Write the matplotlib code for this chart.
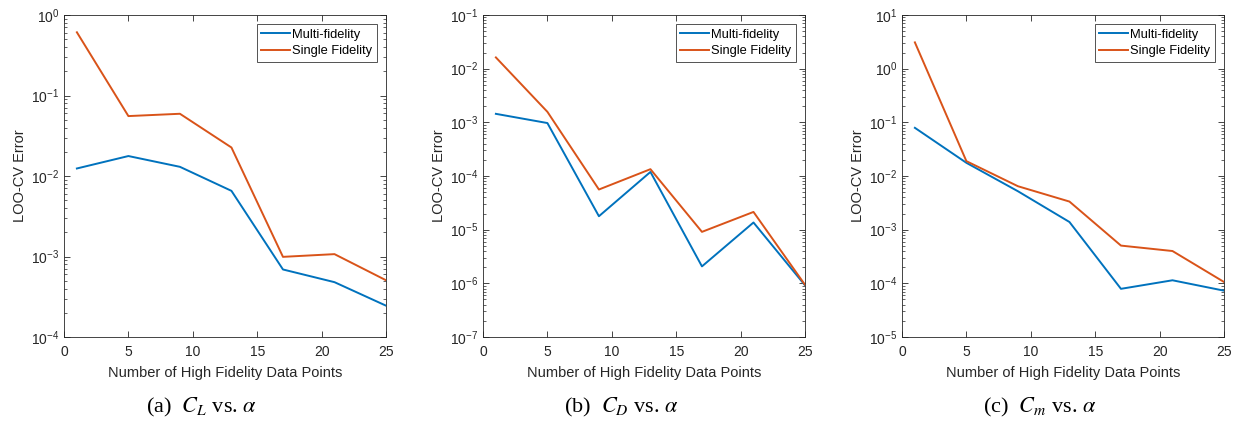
import matplotlib.pyplot as plt
from matplotlib.ticker import LogLocator, NullFormatter

# High fidelity sample counts
n_hf = [1, 5, 9, 13, 17, 21, 25]

# (a) C_L vs alpha
cl_multi = [0.0124, 0.0177, 0.013, 0.00654, 6.9e-4, 4.8e-4, 2.45e-4]
cl_single = [0.61, 0.0555, 0.0593, 0.0226, 9.9e-4, 1.07e-3, 5.07e-4]

# (b) C_D vs alpha
cd_multi = [1.44e-3, 9.7e-4, 1.78e-5, 1.19e-4, 2.07e-6, 1.36e-5, 9.2e-7]
cd_single = [1.62e-2, 1.57e-3, 5.6e-5, 1.34e-4, 9.1e-6, 2.14e-5, 9.4e-7]

# (c) C_m vs alpha
cm_multi = [0.079, 0.0176, 5.2e-3, 1.39e-3, 7.9e-5, 1.14e-4, 7.3e-5]
cm_single = [3.09, 0.0189, 6.45e-3, 3.34e-3, 5.05e-4, 4.0e-4, 1.06e-4]

ylims = [(1e-4, 1e0), (1e-7, 1e-1), (1e-5, 1e1)]
captions = [r"(a)  $C_L$ vs. $\alpha$", r"(b)  $C_D$ vs. $\alpha$", r"(c)  $C_m$ vs. $\alpha$"]

blue = '#0072BD'
orange = '#D95319'
axis_color = '#262626'

plt.rcParams['font.family'] = ['Liberation Sans', 'DejaVu Sans']
plt.rcParams['mathtext.fontset'] = 'custom'
plt.rcParams['mathtext.rm'] = 'Liberation Sans'

fig = plt.figure(figsize=(12.38, 4.21), dpi=100)
W, H = 1238, 421
lefts = [64, 483, 902]
top, bottom, width = 15, 337, 322

series = [(cl_multi, cl_single), (cd_multi, cd_single), (cm_multi, cm_single)]

for i, (multi, single) in enumerate(series):
    ax = fig.add_axes([lefts[i] / W, 1 - bottom / H, width / W, (bottom - top) / H])
    ax.plot(n_hf, multi, color=blue, lw=1.4, label='Multi-fidelity')
    ax.plot(n_hf, single, color=orange, lw=1.4, label='Single Fidelity')
    ax.set_yscale('log')
    ax.set_xlim(0, 25)
    ax.set_ylim(*ylims[i])
    ax.set_xticks([0, 5, 10, 15, 20, 25])
    ax.yaxis.set_major_locator(LogLocator(base=10, numticks=20))
    ax.yaxis.set_minor_locator(LogLocator(base=10, subs=range(2, 10), numticks=20))
    ax.yaxis.set_minor_formatter(NullFormatter())
    ax.tick_params(which='both', direction='in', top=True, right=True,
                   colors=axis_color, labelsize=10, labelcolor=axis_color)
    ax.tick_params(axis='x', pad=6)
    ax.tick_params(which='major', length=4, width=0.6)
    ax.tick_params(which='minor', length=2, width=0.5)
    for sp in ax.spines.values():
        sp.set_color(axis_color)
        sp.set_linewidth(0.6)
    ax.set_xlabel('Number of High Fidelity Data Points', fontsize=10.5,
                  color=axis_color, labelpad=5)
    ax.set_ylabel('LOO-CV Error', fontsize=10.5, color=axis_color, labelpad=3)
    leg = ax.legend(loc='upper right', fontsize=9.3, frameon=True, fancybox=False,
                    edgecolor=axis_color, handlelength=2.2, handletextpad=0.2,
                    borderaxespad=0.7, borderpad=0.35, labelspacing=0.35)
    leg.get_frame().set_linewidth(0.7)

    cx = lefts[i] + width / 2 - 23
    fig.text(cx / W, 1 - 407 / H, captions[i], ha='center', va='center',
             fontsize=16, family=['Liberation Serif', 'DejaVu Serif'],
             math_fontfamily='stix')

fig.savefig('out.png', dpi=100)
